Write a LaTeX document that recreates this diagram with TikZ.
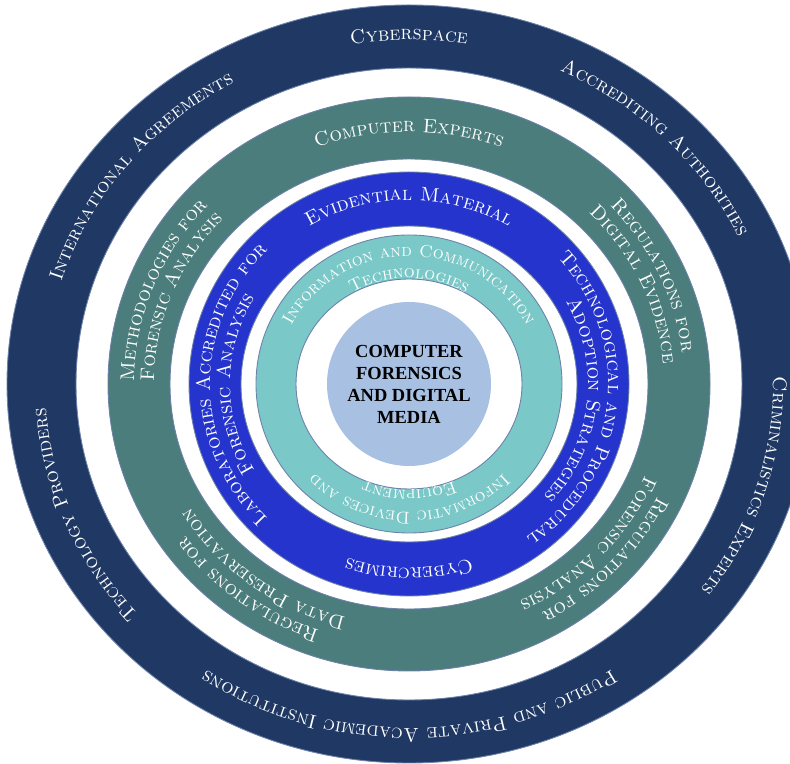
\documentclass[tikz,border=0pt]{standalone}
\usepackage{fontspec}
\usetikzlibrary{decorations.text}

\newfontfamily\corefont{Liberation Serif}

\definecolor{navy}{RGB}{31,56,100}
\definecolor{sea}{RGB}{74,125,123}
\definecolor{royal}{RGB}{36,52,204}
\definecolor{aqua}{RGB}{122,200,200}
\definecolor{coreblue}{RGB}{168,192,226}
\definecolor{edge}{RGB}{110,130,170}

\newcommand{\bigsc}{\fontsize{11.2}{13}\selectfont\scshape}
\newcommand{\smallsc}{\fontsize{9.8}{11}\selectfont\scshape}

% curved label: x radius, y radius, middle angle, text
\newcommand{\ringlabel}[4]{%
  \path [decorate, decoration={text along path, text align=center,
      text color=white, text={#4}}]
    (C) ++({#3+80}:#1 and #2) arc [start angle={#3+80}, end angle={#3-80},
      x radius=#1, y radius=#2];}

\begin{document}
\begin{tikzpicture}[x=0.02cm, y=0.02cm]
\tikzset{ band/.style={even odd rule, draw=edge, line width=0.5pt} }
\useasboundingbox (0,0) rectangle (790,763);
\clip (0,0) rectangle (790,763);

\coordinate (C) at (409,379);

% rings, outside in
\path [band, fill=navy]  (C) ellipse [x radius=402, y radius=379] (C) ellipse [x radius=333, y radius=316];
\path [band, fill=sea]   (C) ellipse [x radius=301, y radius=287] (C) ellipse [x radius=239, y radius=225];
\path [band, fill=royal] (C) ellipse [x radius=220, y radius=212] (C) ellipse [x radius=168, y radius=158];
\path [band, fill=aqua]  (C) ellipse [x radius=153, y radius=149] (C) ellipse [x radius=113, y radius=105];
\fill [coreblue] (C) circle [radius=82];

% outer ring
\ringlabel{364}{344}{90}{|\bigsc|Cyberspace}
\ringlabel{364}{344}{44}{|\bigsc|Accrediting Authorities}
\ringlabel{364}{344}{-17}{|\bigsc|Criminalistics Experts}
\ringlabel{364}{344}{-90}{|\bigsc|Public and Private Academic Institutions}
\ringlabel{364}{344}{-158}{|\bigsc|Technology Providers}
\ringlabel{364}{344}{142}{|\bigsc|International Agreements}

% second ring
\ringlabel{266}{252}{90}{|\bigsc|Computer Experts}
\ringlabel{275}{261}{24}{|\bigsc|Regulations for}
\ringlabel{255}{241}{24}{|\bigsc|Digital Evidence}
\ringlabel{275}{261}{-42}{|\bigsc|Regulations for}
\ringlabel{255}{241}{-42}{|\bigsc|Forensic Analysis}
\ringlabel{275}{261}{-128}{|\bigsc|Regulations for}
\ringlabel{255}{241}{-128}{|\bigsc|Data Preservation}
\ringlabel{275}{261}{159}{|\bigsc|Methodologies for}
\ringlabel{255}{241}{159}{|\bigsc|Forensic Analysis}

% third ring
\ringlabel{192}{184}{90}{|\bigsc|Evidential Material}
\ringlabel{199}{190}{-6}{|\bigsc|Technological and Procedural}
\ringlabel{179}{170}{-6}{|\bigsc|Adoption Strategies}
\ringlabel{192}{184}{-90}{|\bigsc|Cybercrimes}
\ringlabel{199}{190}{180}{|\bigsc|Laboratories Accredited for}
\ringlabel{179}{170}{180}{|\bigsc|Forensic Analysis}

% inner ring
\ringlabel{132}{128}{90}{|\smallsc|Information and Communication}
\ringlabel{111}{106}{90}{|\smallsc|Technologies}
\ringlabel{132}{128}{-90}{|\smallsc|Informatic Devices and}
\ringlabel{111}{106}{-90}{|\smallsc|Equipment}

\node [align=center, font=\corefont\bfseries\fontsize{10.5}{12.5}\selectfont] (core) at (C) {COMPUTER\\FORENSICS\\AND DIGITAL\\MEDIA};

\end{tikzpicture}
\end{document}
